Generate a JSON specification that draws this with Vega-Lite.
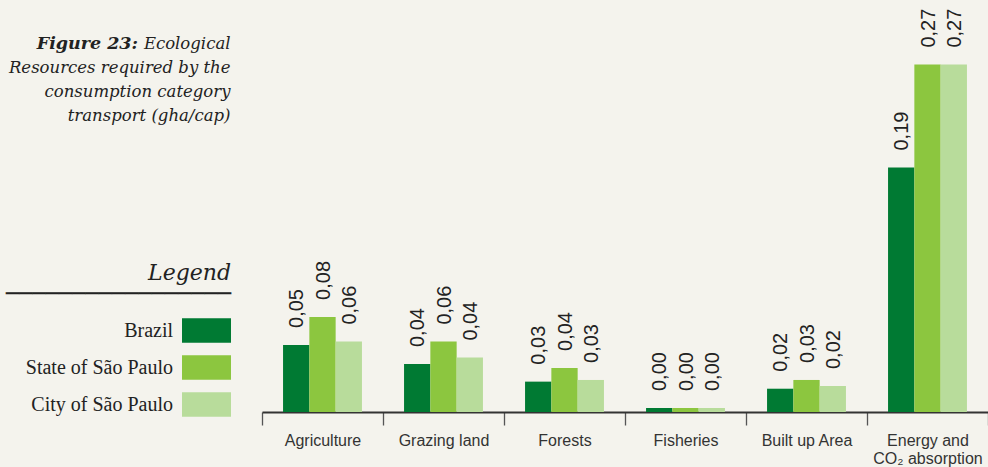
{
  "$schema": "https://vega.github.io/schema/vega-lite/v6.json",
  "width": 726,
  "height": 386,
  "autosize": {"type": "none"},
  "padding": {"left": 262, "top": 26, "right": 0, "bottom": 55},
  "background": "#f4f3ed",
  "config": {"view": {"stroke": null}},
  "title": {
    "text": "Figure 23:",
    "anchor": "start",
    "frame": "group",
    "align": "right",
    "baseline": "alphabetic",
    "dx": -124,
    "dy": 62,
    "font": "DejaVu Serif",
    "fontStyle": "italic",
    "fontWeight": "bold",
    "fontSize": 17.5,
    "color": "#222222"
  },
  "data": {
    "values": [
      {"cat": "Agriculture", "series": "Brazil", "value": 0.0521, "label": "0,05"},
      {"cat": "Agriculture", "series": "State of São Paulo", "value": 0.0739, "label": "0,08"},
      {"cat": "Agriculture", "series": "City of São Paulo", "value": 0.0547, "label": "0,06"},
      {"cat": "Grazing land", "series": "Brazil", "value": 0.0373, "label": "0,04"},
      {"cat": "Grazing land", "series": "State of São Paulo", "value": 0.0547, "label": "0,06"},
      {"cat": "Grazing land", "series": "City of São Paulo", "value": 0.0423, "label": "0,04"},
      {"cat": "Forests", "series": "Brazil", "value": 0.0236, "label": "0,03"},
      {"cat": "Forests", "series": "State of São Paulo", "value": 0.0342, "label": "0,04"},
      {"cat": "Forests", "series": "City of São Paulo", "value": 0.0249, "label": "0,03"},
      {"cat": "Fisheries", "series": "Brazil", "value": 0.0031, "label": "0,00"},
      {"cat": "Fisheries", "series": "State of São Paulo", "value": 0.0031, "label": "0,00"},
      {"cat": "Fisheries", "series": "City of São Paulo", "value": 0.0031, "label": "0,00"},
      {"cat": "Built up Area", "series": "Brazil", "value": 0.0181, "label": "0,02"},
      {"cat": "Built up Area", "series": "State of São Paulo", "value": 0.0249, "label": "0,03"},
      {"cat": "Built up Area", "series": "City of São Paulo", "value": 0.0202, "label": "0,02"},
      {"cat": "Energy and CO₂ absorption", "series": "Brazil", "value": 0.19, "label": "0,19"},
      {"cat": "Energy and CO₂ absorption", "series": "State of São Paulo", "value": 0.27, "label": "0,27"},
      {"cat": "Energy and CO₂ absorption", "series": "City of São Paulo", "value": 0.27, "label": "0,27"}
    ]
  },
  "encoding": {
    "x": {
      "field": "cat",
      "type": "nominal",
      "sort": ["Agriculture", "Grazing land", "Forests", "Fisheries", "Built up Area", "Energy and CO₂ absorption"],
      "scale": {"paddingInner": 0, "paddingOuter": 0},
      "axis": {
        "title": null,
        "domainColor": "#333333",
        "domainWidth": 2,
        "tickColor": "#555555",
        "tickSize": 13,
        "tickWidth": 1.3,
        "tickBand": "extent",
        "labelFont": "Liberation Sans",
        "labelFontSize": 16,
        "labelColor": "#333333",
        "labelPadding": 7,
        "labelAngle": 0,
        "labelLineHeight": 18,
        "labelLimit": 200,
        "labelExpr": "datum.value == 'Energy and CO₂ absorption' ? ['Energy and', 'CO₂ absorption'] : datum.value"
      }
    },
    "xOffset": {
      "field": "series",
      "sort": ["Brazil", "State of São Paulo", "City of São Paulo"],
      "scale": {"paddingInner": 0, "paddingOuter": 0.8}
    },
    "y": {
      "field": "value",
      "type": "quantitative",
      "scale": {"domain": [0, 0.3], "nice": false},
      "axis": {
        "domain": false,
        "ticks": false,
        "labels": false,
        "grid": false,
        "title": ["Ecological", "Resources required by the", "consumption category", "transport (gha/cap)"],
        "titleAngle": 0,
        "titleAlign": "right",
        "titleBaseline": "alphabetic",
        "titleX": -32,
        "titleY": 22,
        "titleFont": "DejaVu Serif",
        "titleFontStyle": "italic",
        "titleFontWeight": "normal",
        "titleFontSize": 16.5,
        "titleLineHeight": 24,
        "titleColor": "#222222"
      }
    }
  },
  "layer": [
    {
      "mark": {"type": "bar"},
      "encoding": {
        "color": {
          "field": "series",
          "type": "nominal",
          "sort": ["Brazil", "State of São Paulo", "City of São Paulo"],
          "scale": {"domain": ["Brazil", "State of São Paulo", "City of São Paulo"], "range": ["#007a33", "#8cc63f", "#b8dc9b"]},
          "legend": {
            "orient": "none",
            "legendX": -256,
            "legendY": 237,
            "padding": 0,
            "title": ["Legend", "─────────────────"],
            "titleFont": "DejaVu Serif",
            "titleFontStyle": "italic",
            "titleFontWeight": "normal",
            "titleFontSize": 22,
            "titleLineHeight": 21,
            "titleColor": "#222222",
            "titleAlign": "right",
            "titleAnchor": "end",
            "titlePadding": 12,
            "titleLimit": 400,
            "symbolType": "M-2,-1H2V1H-2Z",
            "symbolSize": 600,
            "symbolStrokeWidth": 0,
            "symbolOpacity": 1,
            "labelFont": "Liberation Serif",
            "labelFontSize": 20,
            "labelColor": "#222222",
            "labelAlign": "right",
            "labelOffset": -46,
            "labelLimit": 300,
            "rowPadding": 12
          }
        }
      }
    },
    {
      "mark": {"type": "text", "angle": 270, "align": "left", "baseline": "middle", "dx": 17, "dy": 1, "font": "Liberation Sans", "fontSize": 20, "color": "#222222"},
      "encoding": {"text": {"field": "label"}}
    }
  ]
}
